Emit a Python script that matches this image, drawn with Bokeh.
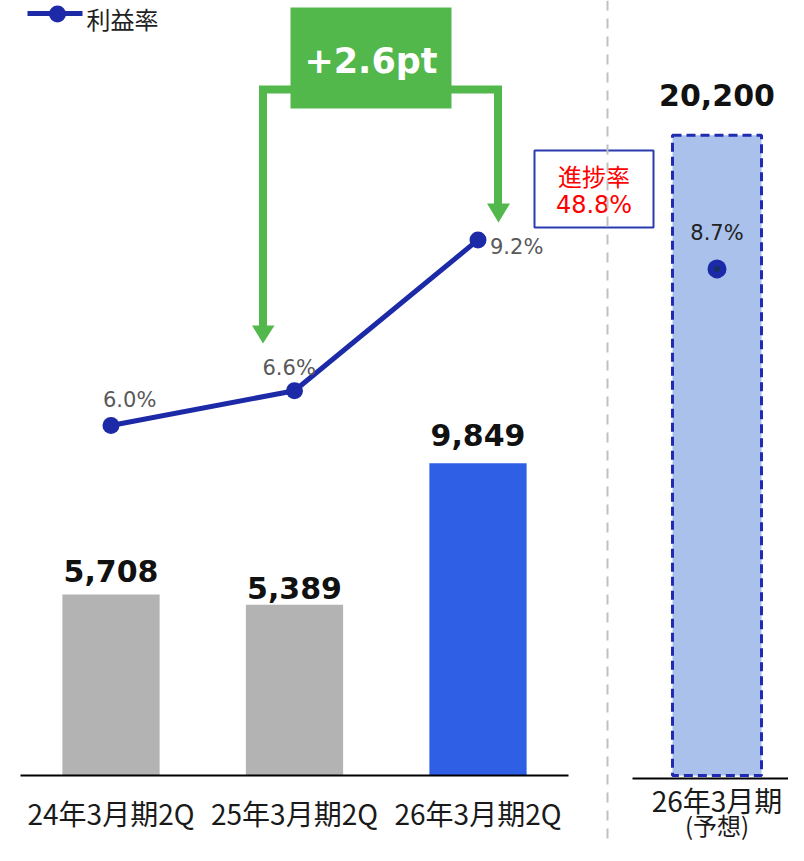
from bokeh.plotting import figure
from bokeh.models import Range1d, Span
from bokeh.core.properties import value
from bokeh.embed import file_html
from bokeh.resources import INLINE

# ---- data ----
categories = ["24年3月期2Q", "25年3月期2Q", "26年3月期2Q"]
profit = [5708, 5389, 9849]
ratio = [6.0, 6.6, 9.2]
forecast_label = ["26年3月期", "(予想)"]
forecast_profit = [20200]
forecast_ratio = [8.7]
progress_rate = 48.8
ratio_gain = 2.6
legend_label = "利益率"

# ---- styles ----
bar_colors = ["#B3B3B3", "#B3B3B3", "#2F5FE5"]
LINE_BLUE = "#1C2AA8"
GREEN = "#52B84C"
CJK = value("Noto Sans CJK JP")
LATIN = value("DejaVu Sans")

# ---- layout helpers (picture pixel -> data) ----
X0, DX = 110.5, 183.5      # px of category 0, px per category
Y0, KY = 775.0, 0.03170    # px of value 0, px per unit
P0, KP = 773.0, 58.0       # px of 0 %, px per point
W, H = 788, 845

def sx(px):
    return (px - X0) / DX

def sy(py):
    return (Y0 - py) / KY

def sp(py):
    return (P0 - py) / KP

x_pos = list(range(len(categories)))
forecast_x = [sx(716.5)]

p = figure(width=W, height=H, output_backend="svg", toolbar_location=None,
           x_range=Range1d(sx(0), sx(W)), y_range=Range1d(sy(H), sy(0)),
           x_axis_location=None, y_axis_location=None, min_border=0)
p.extra_y_ranges = {"pct": Range1d(sp(H), sp(0))}
p.grid.visible = False
p.outline_line_color = None
p.background_fill_color = "white"
p.border_fill_color = "white"

# divider
p.add_layout(Span(location=sx(607), dimension="height", line_color="#C0C0C0",
                  line_width=2, line_dash="10 8"))

# bars
p.vbar(x=x_pos, top=profit, bottom=0, width=0.53, fill_color=bar_colors, line_color=None)
p.vbar(x=forecast_x, top=forecast_profit, bottom=0, width=0.485, fill_color="#A9C1EB",
       line_color="#1F2BB0", line_width=3, line_dash="9 5")

# baselines
p.line([sx(20), sx(568)], [0, 0], line_color="black", line_width=2)
p.line([sx(632), sx(800)], [sy(778), sy(778)], line_color="black", line_width=2)

# bar value labels
p.text(x=x_pos, y=profit, text=[f"{v:,}" for v in profit], text_align="center",
       text_baseline="alphabetic", y_offset=[-24, -17, -28], text_font=LATIN,
       text_font_style="bold", text_font_size="30px", text_color="#111111")
p.text(x=forecast_x, y=forecast_profit, text=[f"{v:,}" for v in forecast_profit],
       text_align="center", text_baseline="alphabetic", y_offset=-40, text_font=LATIN,
       text_font_style="bold", text_font_size="30px", text_color="#111111")

# category labels
p.text(x=x_pos, y=[sy(812)] * len(x_pos), text=categories, text_align="center",
       text_baseline="middle", text_font=CJK, text_font_size="28px", text_color="#1A1A1A")
p.text(x=forecast_x, y=[sy(799)], text=forecast_label[:1], text_align="center",
       text_baseline="middle", text_font=CJK, text_font_size="28px", text_color="#1A1A1A")
p.text(x=forecast_x, y=[sy(824)], text=forecast_label[1:], text_align="center",
       text_baseline="middle", text_font=CJK, text_font_size="24px", text_color="#1A1A1A")

# ratio line
p.line(x_pos, ratio, y_range_name="pct", line_color=LINE_BLUE, line_width=5)
p.scatter(x_pos, ratio, y_range_name="pct", size=17, fill_color=LINE_BLUE, line_color=None)
p.text(x=x_pos, y=ratio, y_range_name="pct", text=[f"{r:.1f}%" for r in ratio],
       text_align="left", text_baseline="alphabetic", x_offset=[-8, -32, 12],
       y_offset=[-26, -23, 7], text_font=LATIN, text_font_size="21px", text_color="#595959")
p.scatter(forecast_x, forecast_ratio, y_range_name="pct", size=19, fill_color=LINE_BLUE,
          line_color=None)
p.scatter(forecast_x, forecast_ratio, y_range_name="pct", size=6, fill_color="#172E66",
          line_color=None)
p.text(x=forecast_x, y=forecast_ratio, y_range_name="pct",
       text=[f"{r:.1f}%" for r in forecast_ratio], text_align="center",
       text_baseline="alphabetic", y_offset=-36, text_font=LATIN, text_font_size="21px",
       text_color="#222222")

# green elbow arrows and box
p.line([sx(262.5), sx(262.5), sx(292)], [sy(326), sy(89), sy(89)], line_color=GREEN,
       line_width=8, line_join="miter")
p.line([sx(449), sx(497.5), sx(497.5)], [sy(89), sy(89), sy(204)], line_color=GREEN,
       line_width=8, line_join="miter")
p.patch([sx(251.5), sx(274), sx(262.5)], [sy(325), sy(325), sy(343)], fill_color=GREEN,
        line_color=None)
p.patch([sx(486.5), sx(509.5), sx(498)], [sy(203), sy(203), sy(222)], fill_color=GREEN,
        line_color=None)
p.quad(left=sx(290), right=sx(451), top=sy(7), bottom=sy(108), fill_color=GREEN,
       line_color=None)
p.text(x=[sx(370.5)], y=[sy(60)], text=[f"+{ratio_gain}pt"], text_align="center",
       text_baseline="middle", text_font=LATIN, text_font_style="bold",
       text_font_size="35px", text_color="white")

# progress box
p.quad(left=sx(534), right=sx(653), top=sy(150), bottom=sy(227), fill_color="white",
       line_color="#2B3BAF", line_width=2)
p.text(x=[sx(593.5)], y=[sy(175)], text=["進捗率"], text_align="center",
       text_baseline="middle", text_font=CJK, text_font_size="24px", text_color="#FF0000")
p.text(x=[sx(593.5)], y=[sy(204)], text=[f"{progress_rate}%"], text_align="center",
       text_baseline="middle", text_font=LATIN, text_font_size="24px", text_color="#FF0000")

# legend
p.line([sx(27), sx(82)], [sy(13), sy(13)], line_color=LINE_BLUE, line_width=5)
p.scatter([sx(57)], [sy(13.5)], size=17, fill_color=LINE_BLUE, line_color=None)
p.text(x=[sx(86)], y=[sy(18)], text=[legend_label], text_align="left",
       text_baseline="middle", text_font=CJK, text_font_size="24px", text_color="#222222")

open("out.html", "w").write(file_html(p, INLINE))
